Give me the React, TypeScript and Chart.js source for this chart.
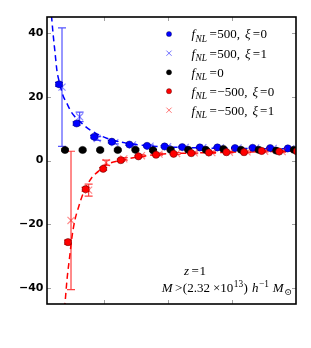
import React, { useEffect, useRef } from 'react';
import { Chart, registerables } from 'chart.js';

Chart.register(...registerables);

// ---- data ----
const kBins = [0.00382, 0.00658, 0.00933, 0.01209, 0.01485, 0.01761, 0.02036, 0.02312, 0.02588, 0.02863, 0.03139, 0.03415, 0.0369, 0.03966];

const blueCircle = [23.9, 11.6, 7.45, 5.9, 5.0, 4.6, 4.4, 4.2, 4.1, 4.1, 3.9, 4.0, 3.9, 3.8];
const blueCircleErr = [0.6, 0.5, 0.4, 0.35, 0.3, 0.3, 0.25, 0.25, 0.2, 0.2, 0.2, 0.2, 0.2, 0.2];
const blueCross = [23.0, 13.7, 6.9, 5.6, 4.9, 4.5, 4.3, 4.1, 4.0, 4.0, 3.9, 3.9, 3.8, 3.7];
const blueCrossErr = [18.6, 1.5, 0.6, 0.4, 0.35, 0.3, 0.3, 0.25, 0.25, 0.2, 0.2, 0.2, 0.2, 0.2];
const blackPts = [3.3, 3.3, 3.3, 3.3, 3.35, 3.2, 3.35, 3.35, 3.35, 3.6, 3.35, 3.35, 3.1, 3.35];
const blackErr = [0.3, 0.3, 0.3, 0.3, 0.3, 0.3, 0.3, 0.3, 0.3, 0.3, 0.3, 0.3, 0.3, 0.3];
const redCircle = [-25.6, -9.0, -2.6, 0.1, 1.3, 1.8, 2.1, 2.3, 2.5, 2.6, 2.6, 3.0, 2.8, 2.9];
const redCircleErr = [0.6, 0.6, 0.4, 0.35, 0.3, 0.3, 0.25, 0.25, 0.2, 0.2, 0.2, 0.2, 0.2, 0.2];
const redCross = [-18.8, -9.3, -0.7, 0.5, 1.5, 2.0, 2.2, 2.4, 2.5, 2.6, 2.7, 2.9, 2.8, 2.9];
const redCrossErr = [21.7, 1.9, 0.8, 0.4, 0.3, 0.3, 0.3, 0.25, 0.25, 0.2, 0.2, 0.2, 0.2, 0.2];

const blueCurveK = [0.0017, 0.00194, 0.00225, 0.00257, 0.00288, 0.00319, 0.00358, 0.00409, 0.00487, 0.00617, 0.00773, 0.01035, 0.01348, 0.0176, 0.02496, 0.03279, 0.04];
const blueCurveB = [45.5, 40, 34, 28, 25, 22.5, 20, 18, 15, 12.2, 9.6, 7.0, 5.45, 4.5, 3.95, 3.75, 3.65];
const redCurveK = [0.00374, 0.00382, 0.00415, 0.00456, 0.00491, 0.00538, 0.0059, 0.00669, 0.008, 0.00903, 0.00982, 0.0127, 0.01557, 0.01818, 0.02496, 0.03279, 0.04];
const redCurveB = [-46.5, -44.8, -37, -30, -24, -18.6, -14.9, -10.2, -5.4, -3.4, -1.8, 0.1, 1.2, 1.9, 2.4, 2.7, 2.9];

const yTicks = [-40, -20, 0, 20, 40];
const xTicks = [0.01, 0.02, 0.03];

const X_MIN = 0.001;
const X_MAX = 0.04;
const Y_MIN = -45;
const Y_MAX = 45;

// horizontal offsets of the series around each bin
const OFF_BLUE_CIRCLE = -0.00094;
const OFF_BLUE_CROSS = -0.00047;
const OFF_BLACK = 0;
const OFF_RED_CIRCLE = 0.00047;
const OFF_RED_CROSS = 0.00094;

const BLUE = 'rgb(0,0,255)';
const BLUE_LIGHT = 'rgba(0,0,255,0.45)';
const RED = 'rgb(255,0,0)';
const RED_LIGHT = 'rgba(255,0,0,0.45)';

const errorSeries = [
  { values: blueCircle, err: blueCircleErr, offset: OFF_BLUE_CIRCLE, color: BLUE },
  { values: blueCross, err: blueCrossErr, offset: OFF_BLUE_CROSS, color: 'rgba(40,40,255,0.8)' },
  { values: blackPts, err: blackErr, offset: OFF_BLACK, color: '#000' },
  { values: redCircle, err: redCircleErr, offset: OFF_RED_CIRCLE, color: RED },
  { values: redCross, err: redCrossErr, offset: OFF_RED_CROSS, color: 'rgba(255,30,30,0.85)' },
];

const pts = (vals: number[], off: number) => vals.map((v, i) => ({ x: kBins[i] + off, y: v }));
const curve = (ks: number[], bs: number[]) => ks.map((k, i) => ({ x: k, y: bs[i] }));

type Part = { t: string; it?: boolean; sub?: boolean; sup?: boolean; gap?: number };
const FAMILY = '"Liberation Serif", "DejaVu Serif", serif';
const fontFor = (p: Part, size: number) =>
  `${p.it ? 'italic ' : ''}${p.sub || p.sup ? size * 0.72 : size}px ${FAMILY}`;

function mathWidth(ctx: CanvasRenderingContext2D, parts: Part[], size: number) {
  let w = 0;
  for (const p of parts) {
    ctx.font = fontFor(p, size);
    w += (p.gap || 0) + ctx.measureText(p.t).width;
  }
  return w;
}

function drawMath(ctx: CanvasRenderingContext2D, parts: Part[], x: number, y: number, size: number, align: 'left' | 'center' | 'right') {
  const w = mathWidth(ctx, parts, size);
  let cx = align === 'left' ? x : align === 'center' ? x - w / 2 : x - w;
  ctx.textAlign = 'left';
  ctx.textBaseline = 'alphabetic';
  ctx.fillStyle = '#000';
  for (const p of parts) {
    ctx.font = fontFor(p, size);
    cx += p.gap || 0;
    const dy = p.sub ? size * 0.25 : p.sup ? -size * 0.4 : 0;
    ctx.fillText(p.t, cx, y + dy);
    cx += ctx.measureText(p.t).width;
  }
}

const fNL: Part[] = [{ t: 'f', it: true }, { t: 'NL', it: true, sub: true, gap: 0.5 }];
const legendItems: { parts: Part[]; kind: 'circle' | 'cross'; color: string }[] = [
  { parts: [...fNL, { t: '=', gap: 2.5 }, { t: '500,', gap: 0.5 }, { t: 'ξ', it: true, gap: 5 }, { t: '=', gap: 2 }, { t: '0', gap: 0.5 }], kind: 'circle', color: BLUE },
  { parts: [...fNL, { t: '=', gap: 2.5 }, { t: '500,', gap: 0.5 }, { t: 'ξ', it: true, gap: 5 }, { t: '=', gap: 2 }, { t: '1', gap: 0.5 }], kind: 'cross', color: 'rgba(0,0,255,0.55)' },
  { parts: [...fNL, { t: '=', gap: 2.5 }, { t: '0', gap: 0.5 }], kind: 'circle', color: '#000' },
  { parts: [...fNL, { t: '=', gap: 2.5 }, { t: '−500,', gap: 0.5 }, { t: 'ξ', it: true, gap: 5 }, { t: '=', gap: 2 }, { t: '0', gap: 0.5 }], kind: 'circle', color: RED },
  { parts: [...fNL, { t: '=', gap: 2.5 }, { t: '−500,', gap: 0.5 }, { t: 'ξ', it: true, gap: 5 }, { t: '=', gap: 2 }, { t: '1', gap: 0.5 }], kind: 'cross', color: 'rgba(255,0,0,0.55)' },
];

const errorBarPlugin = {
  id: 'errbars',
  beforeDatasetsDraw(chart: any) {
    const { ctx, chartArea: a, scales } = chart;
    const xs = scales.x;
    const ys = scales.y;
    const CAP = 4;
    ctx.save();
    ctx.beginPath();
    ctx.rect(a.left, a.top, a.right - a.left, a.bottom - a.top);
    ctx.clip();
    for (const s of errorSeries) {
      ctx.strokeStyle = s.color;
      ctx.lineWidth = 1.2;
      s.values.forEach((v, i) => {
        const px = xs.getPixelForValue(kBins[i] + s.offset);
        const y1 = ys.getPixelForValue(v - s.err[i]);
        const y2 = ys.getPixelForValue(v + s.err[i]);
        ctx.beginPath();
        ctx.moveTo(px, y1);
        ctx.lineTo(px, y2);
        ctx.moveTo(px - CAP, y1);
        ctx.lineTo(px + CAP, y1);
        ctx.moveTo(px - CAP, y2);
        ctx.lineTo(px + CAP, y2);
        ctx.stroke();
      });
    }
    ctx.restore();
  },
};

const decorPlugin = {
  id: 'decor',
  afterDraw(chart: any) {
    const { ctx, chartArea: a, scales } = chart;
    const xs = scales.x;
    const ys = scales.y;
    ctx.save();
    // inward ticks
    ctx.strokeStyle = '#a0a0a0';
    ctx.lineWidth = 1;
    const TL = 4;
    ctx.beginPath();
    for (const v of yTicks) {
      const py = Math.round(ys.getPixelForValue(v)) + 0.5;
      ctx.moveTo(a.left, py);
      ctx.lineTo(a.left + TL, py);
      ctx.moveTo(a.right, py);
      ctx.lineTo(a.right - TL, py);
    }
    for (const v of xTicks) {
      const px = Math.round(xs.getPixelForValue(v)) + 0.5;
      ctx.moveTo(px, a.top);
      ctx.lineTo(px, a.top + TL);
      ctx.moveTo(px, a.bottom);
      ctx.lineTo(px, a.bottom - TL);
    }
    ctx.stroke();
    // frame
    ctx.strokeStyle = '#000';
    ctx.lineWidth = 1.6;
    ctx.strokeRect(a.left, a.top, a.right - a.left, a.bottom - a.top);

    // legend
    const size = 13;
    const mx = 169;
    const tx = 191.5;
    const rowY = [34, 53.2, 72.3, 91.2, 110.2];
    legendItems.forEach((it, i) => {
      const cy = rowY[i];
      if (it.kind === 'circle') {
        ctx.beginPath();
        ctx.arc(mx, cy, 2.6, 0, Math.PI * 2);
        ctx.fillStyle = it.color;
        ctx.fill();
        ctx.lineWidth = 0.5;
        ctx.strokeStyle = 'rgba(0,0,0,0.6)';
        ctx.stroke();
      } else {
        ctx.beginPath();
        ctx.strokeStyle = it.color;
        ctx.lineWidth = 1;
        const h = 2.6;
        ctx.moveTo(mx - h, cy - h);
        ctx.lineTo(mx + h, cy + h);
        ctx.moveTo(mx - h, cy + h);
        ctx.lineTo(mx + h, cy - h);
        ctx.stroke();
      }
      drawMath(ctx, it.parts, tx, cy + 4.3, size, 'left');
    });

    // annotation
    drawMath(ctx, [{ t: 'z', it: true }, { t: '=', gap: 2.5 }, { t: '1', gap: 0.5 }], 195, 274.5, size, 'center');
    drawMath(
      ctx,
      [
        { t: 'M', it: true },
        { t: '>', gap: 2.5 },
        { t: '(2.32', gap: 0.5 },
        { t: '×10', gap: 3 },
        { t: '13', sup: true, gap: 0.5 },
        { t: ')', gap: 0.5 },
        { t: 'h', it: true, gap: 4 },
        { t: '−1', sup: true, gap: 0.5 },
        { t: 'M', it: true, gap: 4 },
        { t: '⊙', sub: true, gap: 0.5 },
      ],
      292,
      291.7,
      size,
      'right'
    );
    ctx.restore();
  },
};

export default function App() {
  const ref = useRef<HTMLCanvasElement>(null);
  useEffect(() => {
    if (!ref.current) return;
    const chart = new Chart(ref.current, {
      type: 'scatter',
      data: {
        datasets: [
          {
            type: 'line',
            data: curve(blueCurveK, blueCurveB),
            borderColor: BLUE,
            borderWidth: 1.5,
            borderDash: [6, 4],
            pointRadius: 0,
            cubicInterpolationMode: 'monotone',
            fill: false,
            order: 10,
          } as any,
          {
            type: 'line',
            data: curve(redCurveK, redCurveB),
            borderColor: RED,
            borderWidth: 1.5,
            borderDash: [6, 4],
            pointRadius: 0,
            cubicInterpolationMode: 'monotone',
            fill: false,
            order: 9,
          } as any,
          {
            data: pts(blueCircle, OFF_BLUE_CIRCLE),
            pointStyle: 'circle',
            pointRadius: 3.6,
            backgroundColor: BLUE,
            borderColor: 'rgba(0,0,60,0.7)',
            borderWidth: 0.6,
            order: 5,
          },
          {
            data: pts(blueCross, OFF_BLUE_CROSS),
            pointStyle: 'crossRot',
            pointRadius: 5,
            backgroundColor: BLUE_LIGHT,
            borderColor: BLUE_LIGHT,
            borderWidth: 1.2,
            order: 4,
          },
          {
            data: pts(blackPts, OFF_BLACK),
            pointStyle: 'circle',
            pointRadius: 3.6,
            backgroundColor: '#000',
            borderColor: '#000',
            borderWidth: 0.6,
            order: 3,
          },
          {
            data: pts(redCircle, OFF_RED_CIRCLE),
            pointStyle: 'circle',
            pointRadius: 3.6,
            backgroundColor: RED,
            borderColor: 'rgba(60,0,0,0.8)',
            borderWidth: 0.6,
            order: 2,
          },
          {
            data: pts(redCross, OFF_RED_CROSS),
            pointStyle: 'crossRot',
            pointRadius: 5,
            backgroundColor: RED_LIGHT,
            borderColor: RED_LIGHT,
            borderWidth: 1.2,
            order: 1,
          },
        ],
      },
      options: {
        animation: false,
        responsive: false,
        devicePixelRatio: 1,
        layout: { padding: { top: 17, right: 15, left: 0, bottom: 44 } },
        plugins: { legend: { display: false }, tooltip: { enabled: false } },
        scales: {
          x: {
            type: 'linear',
            min: X_MIN,
            max: X_MAX,
            display: false,
          },
          y: {
            type: 'linear',
            min: Y_MIN,
            max: Y_MAX,
            grid: { display: false, drawTicks: false },
            border: { display: false },
            afterBuildTicks: (scale: any) => {
              scale.ticks = yTicks.map((v) => ({ value: v }));
            },
            afterFit: (scale: any) => {
              scale.width = 47;
            },
            ticks: {
              padding: 3.5,
              color: '#000',
              font: { family: '"DejaVu Sans", sans-serif', weight: 'bold', size: 11 },
              callback: (v: any) => String(v).replace('-', '−'),
            },
          },
        },
      },
      plugins: [errorBarPlugin, decorPlugin],
    });
    return () => chart.destroy();
  }, []);
  return (
    <div style={{ position: 'fixed', left: 0, top: 0, width: 311, height: 348, background: '#fff' }}>
      <canvas ref={ref} width={311} height={348} style={{ display: 'block', width: 311, height: 348 }} />
    </div>
  );
}
